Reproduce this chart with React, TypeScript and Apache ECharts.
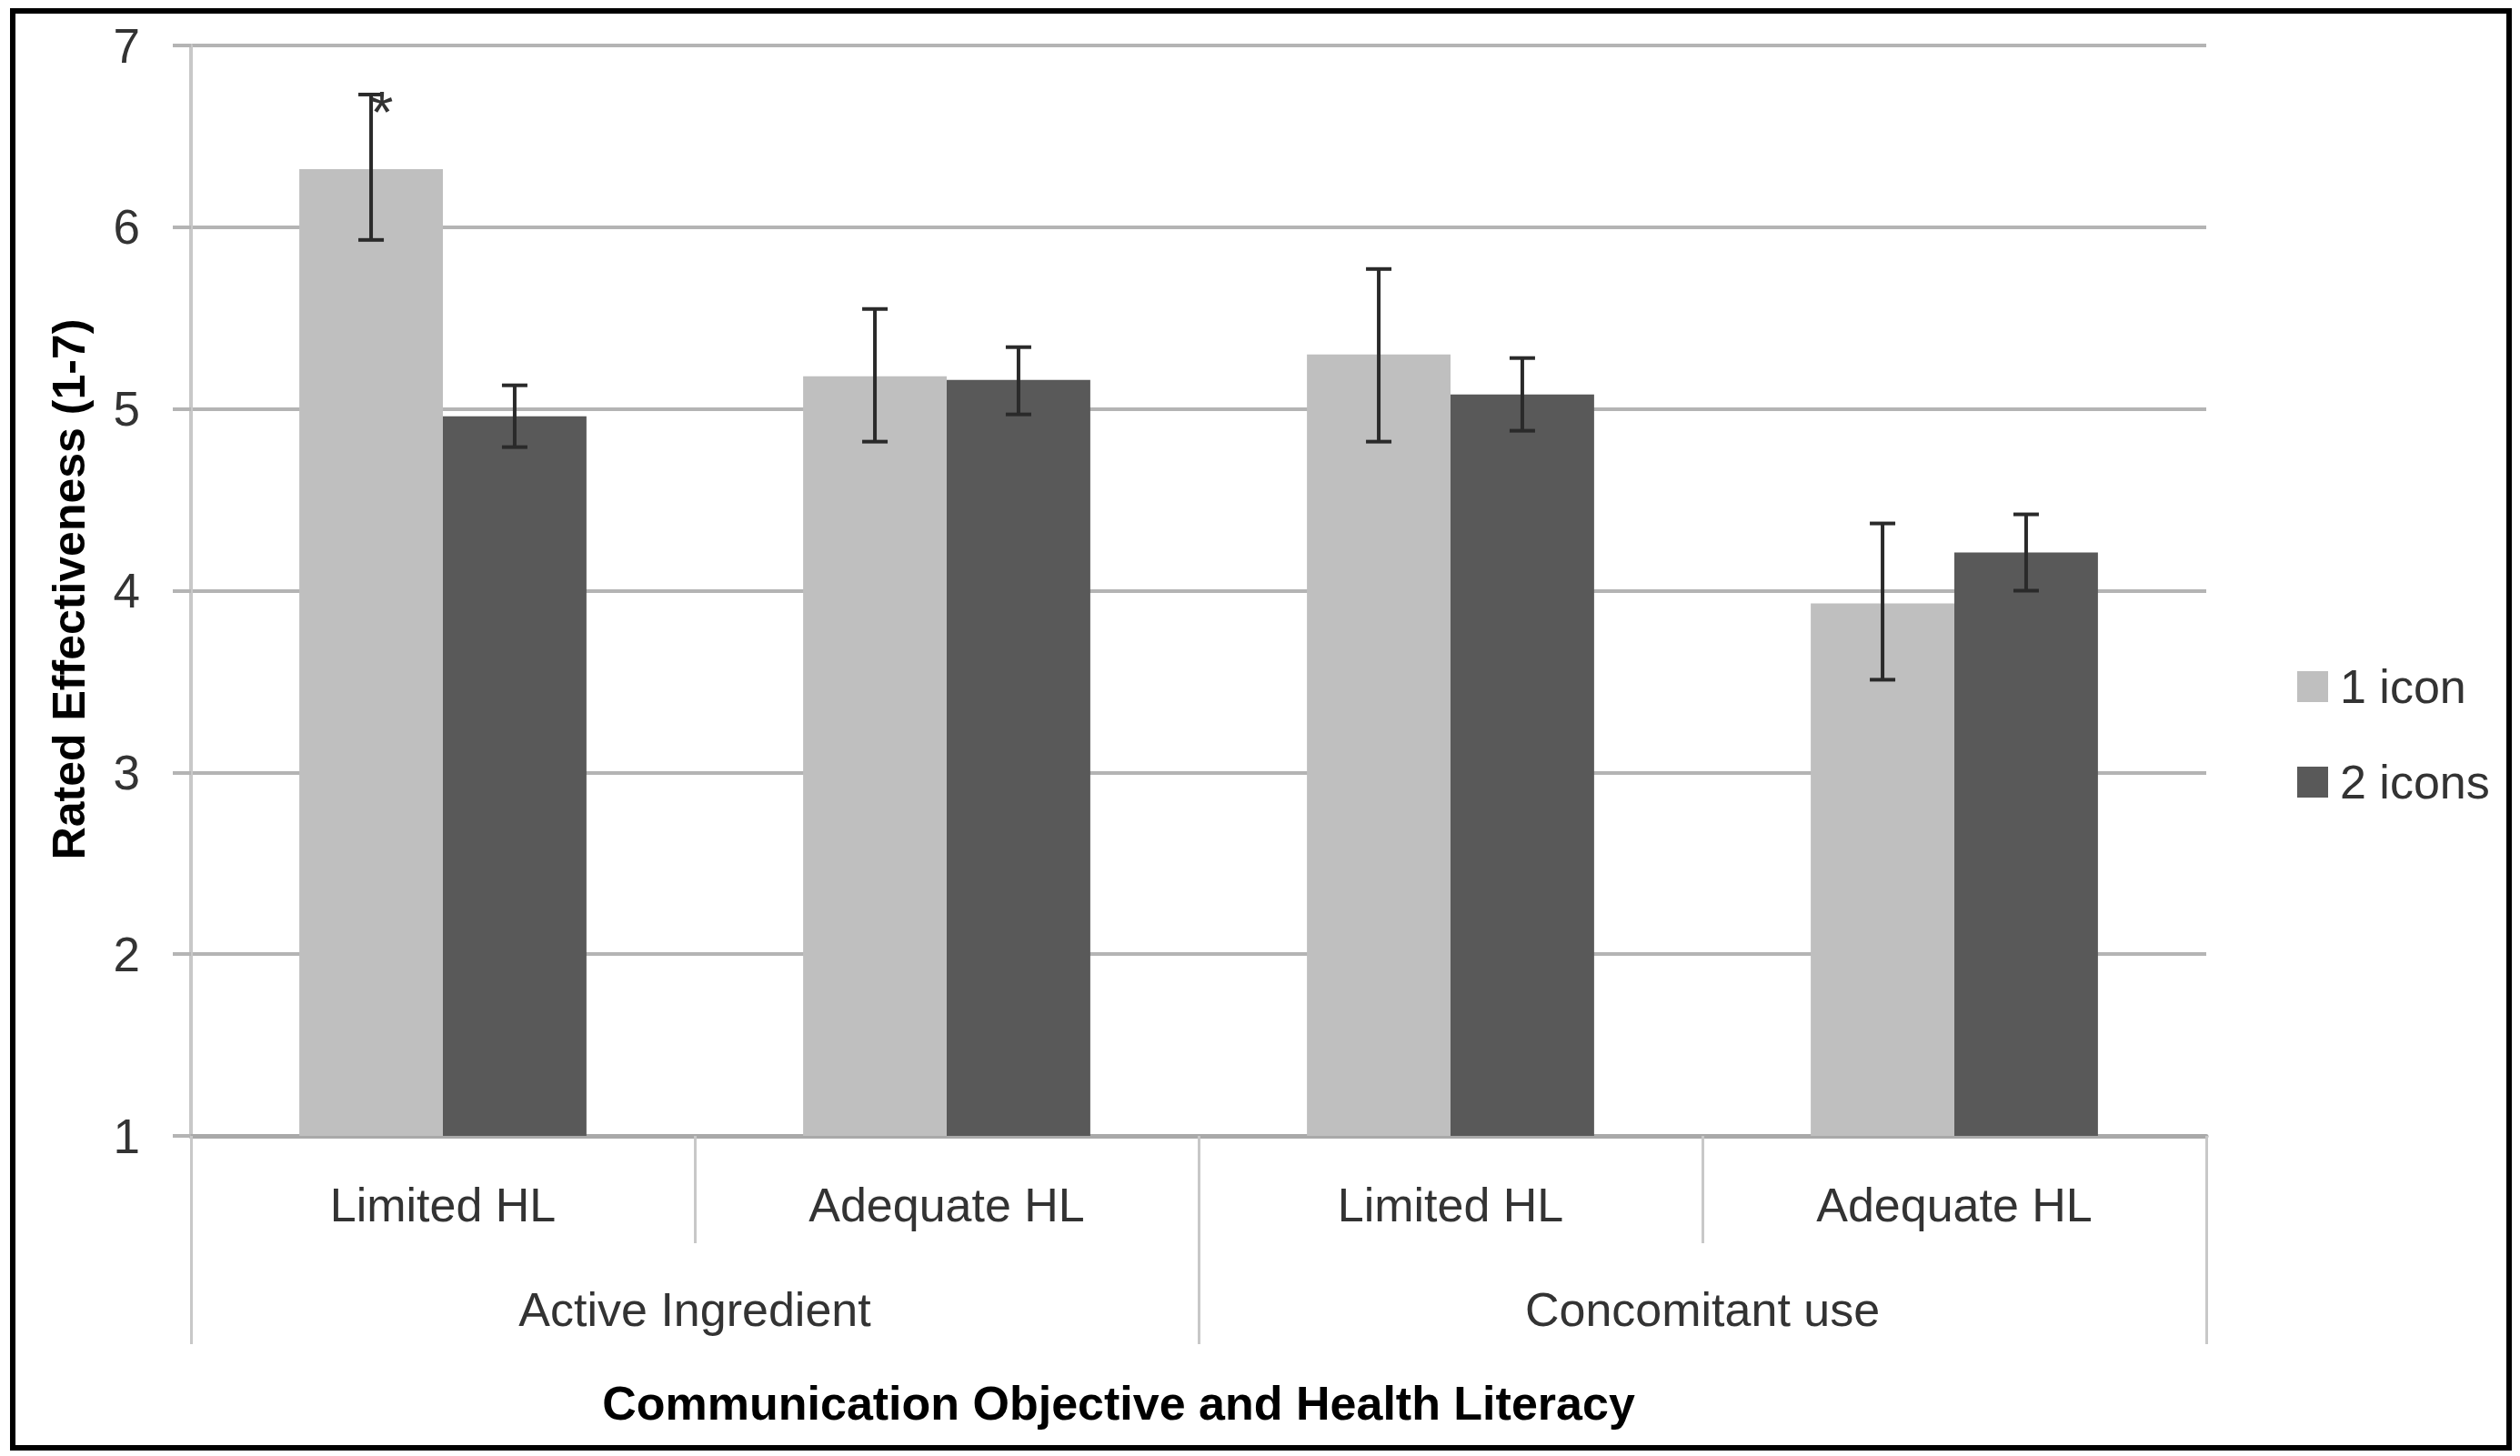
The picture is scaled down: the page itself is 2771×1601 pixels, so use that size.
import React, { useEffect, useRef } from "react";
import * as echarts from "echarts";

const categories = ["Limited HL", "Adequate HL", "Limited HL", "Adequate HL"];
const groups = ["Active Ingredient", "Concomitant use"];
const seriesNames = ["1 icon", "2 icons"];
const oneIcon = [6.32, 5.18, 5.3, 3.93];
const oneIconLow = [5.93, 4.82, 4.82, 3.51];
const oneIconHigh = [6.73, 5.55, 5.77, 4.37];
const twoIcons = [4.96, 5.16, 5.08, 4.21];
const twoIconsLow = [4.79, 4.97, 4.88, 4.0];
const twoIconsHigh = [5.13, 5.34, 5.28, 4.42];
const oneIconMarks = ["*", "", "", ""];
const twoIconsMarks = ["", "", "", ""];
const yMin = 1;
const yMax = 7;
const xTitle = "Communication Objective and Health Literacy";
const yTitle = "Rated Effectiveness (1-7)";

const FONT = "Liberation Sans, Arial, sans-serif";
const GAP = 0.43;

export default function App() {
  const ref = useRef<HTMLDivElement>(null);
  useEffect(() => {
    document.body.style.margin = "0";
    if (!ref.current) return;
    const chart = echarts.init(ref.current, null, { renderer: "svg" });

    const errRows: number[][] = [];
    const marks: string[] = [];
    categories.forEach((_, i) => {
      errRows.push([i, oneIconLow[i], oneIconHigh[i], 0]);
      marks.push(oneIconMarks[i]);
    });
    categories.forEach((_, i) => {
      errRows.push([i, twoIconsLow[i], twoIconsHigh[i], 1]);
      marks.push(twoIconsMarks[i]);
    });

    const option: any = {
      animation: false,
      backgroundColor: "#ffffff",
      textStyle: { fontFamily: FONT },
      grid: { left: 210, right: 345, top: 50, bottom: 352, containLabel: false },
      legend: {
        orient: "vertical",
        left: 2521,
        top: 724,
        itemWidth: 34,
        itemHeight: 34,
        itemGap: 53,
        icon: "rect",
        data: seriesNames,
        textStyle: { fontSize: 52, color: "#333333", fontFamily: FONT, padding: [0, 0, 0, 8] },
      },
      xAxis: [
        {
          type: "category",
          data: categories,
          position: "bottom",
          axisLine: { show: true, lineStyle: { color: "#a9a9a9", width: 5 } },
          axisTick: { show: true, length: 118, lineStyle: { color: "#c8c8c8", width: 3 } },
          axisLabel: { margin: 50, fontSize: 52, color: "#333333", fontFamily: FONT },
          splitLine: { show: false },
        },
        {
          type: "category",
          data: groups,
          position: "bottom",
          gridIndex: 0,
          axisLine: { show: false },
          axisTick: { show: true, length: 229, lineStyle: { color: "#c8c8c8", width: 3 } },
          axisLabel: { margin: 165, fontSize: 52, color: "#333333", fontFamily: FONT },
          splitLine: { show: false },
        },
      ],
      yAxis: {
        type: "value",
        min: yMin,
        max: yMax,
        interval: 1,
        axisLine: { show: true, lineStyle: { color: "#c8c8c8", width: 4 } },
        axisTick: { show: true, length: 20, lineStyle: { color: "#b4b4b4", width: 4 } },
        axisLabel: { margin: 56, fontSize: 53, color: "#333333", fontFamily: FONT },
        splitLine: { show: true, lineStyle: { color: "#b4b4b4", width: 4 } },
      },
      series: [
        {
          name: seriesNames[0],
          type: "bar",
          data: oneIcon,
          barGap: "0%",
          barCategoryGap: GAP * 100 + "%",
          itemStyle: { color: "#bfbfbf" },
          xAxisIndex: 0,
        },
        {
          name: seriesNames[1],
          type: "bar",
          data: twoIcons,
          barGap: "0%",
          barCategoryGap: GAP * 100 + "%",
          itemStyle: { color: "#595959" },
          xAxisIndex: 0,
        },
        {
          type: "custom",
          name: "err",
          xAxisIndex: 0,
          z: 10,
          data: errRows,
          encode: { x: 0, y: [1, 2] },
          renderItem: (params: any, api: any) => {
            const cat = api.value(0);
            const low = api.value(1);
            const high = api.value(2);
            const side = api.value(3);
            const band = api.size([1, 0])[0];
            const bw = (band * (1 - GAP)) / 2;
            const cx = api.coord([cat, low])[0] + (side - 0.5) * bw;
            const yH = api.coord([cat, high])[1];
            const yL = api.coord([cat, low])[1];
            const cap = 14;
            const st = { stroke: "#2a2a2a", lineWidth: 4 };
            const children: any[] = [
              { type: "line", shape: { x1: cx, y1: yH, x2: cx, y2: yL }, style: st },
              { type: "line", shape: { x1: cx - cap, y1: yH, x2: cx + cap, y2: yH }, style: st },
              { type: "line", shape: { x1: cx - cap, y1: yL, x2: cx + cap, y2: yL }, style: st },
            ];
            const m = marks[params.dataIndex];
            if (m) {
              children.push({
                type: "text",
                x: cx + 12,
                y: yH - 12,
                style: {
                  text: m,
                  fontSize: 64,
                  fontFamily: FONT,
                  fill: "#333333",
                  align: "center",
                  verticalAlign: "top",
                },
              });
            }
            return { type: "group", children };
          },
        },
      ],
      graphic: [
        {
          type: "rect",
          shape: { x: 14, y: 12, width: 2745, height: 1580 },
          style: { fill: "none", stroke: "#000000", lineWidth: 6 },
          silent: true,
        },
        {
          type: "text",
          x: 1230,
          y: 1543,
          style: {
            text: xTitle,
            fontSize: 52,
            fontWeight: "bold",
            fontFamily: FONT,
            fill: "#000000",
            align: "center",
            verticalAlign: "middle",
          },
        },
        {
          type: "text",
          x: 76,
          y: 648,
          rotation: Math.PI / 2,
          style: {
            text: yTitle,
            fontSize: 50,
            fontWeight: "bold",
            fontFamily: FONT,
            fill: "#000000",
            align: "center",
            verticalAlign: "middle",
          },
        },
      ],
    };
    chart.setOption(option);
    return () => chart.dispose();
  }, []);
  return <div ref={ref} style={{ width: 2771, height: 1601 }} />;
}
